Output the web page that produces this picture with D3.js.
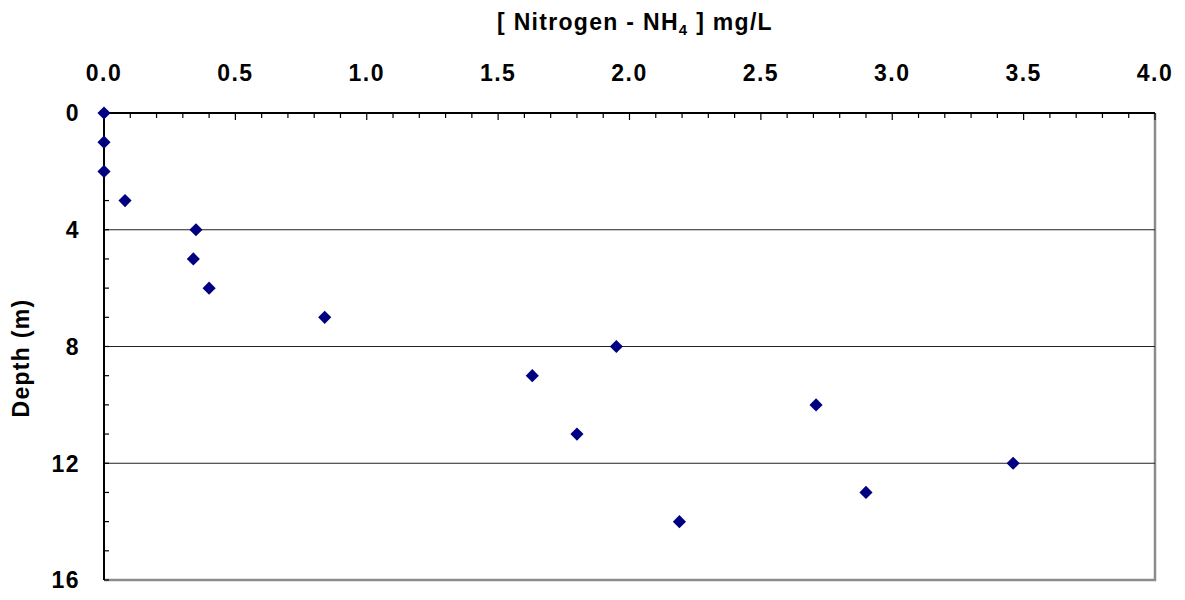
<!DOCTYPE html>
<html>
<head>
<meta charset="utf-8">
<script src="https://cdn.jsdelivr.net/npm/d3@7"></script>
<style>
  body { margin: 0; background: #fff; }
  text { font-family: Arial, "Liberation Sans", sans-serif; font-weight: bold; fill: #000; }
</style>
</head>
<body>
<div id="svg-container"></div>
<script>
// data
const depth = [0, 1, 2, 3, 4, 5, 6, 7, 8, 9, 10, 11, 12, 13, 14]
const nh4 = [0.0, 0.0, 0.0, 0.08, 0.35, 0.34, 0.40, 0.84, 1.95, 1.63, 2.71, 1.80, 3.46, 2.90, 2.19]
const xTicks = [0, 0.5, 1.0, 1.5, 2.0, 2.5, 3.0, 3.5, 4.0]
const yTicks = [0, 4, 8, 12, 16]
const gridDepths = [4, 8, 12]

// dimensions
const dim = {
    width: 1051,
    height: 467,
    margin: { top: 113, right: 30, bottom: 20, left: 104 }
}

const svg = d3.select("#svg-container")
    .append("svg")
        .attr("width", 1185)
        .attr("height", 600)

const g = svg.append("g")
    .attr("transform", `translate(${dim.margin.left}, ${dim.margin.top})`)

// scales
const xScale = d3.scaleLinear().domain([0, 4]).range([0, dim.width])
const yScale = d3.scaleLinear().domain([0, 16]).range([0, dim.height])

// plot border (grey right/bottom)
g.append("path")
    .attr("d", `M${dim.width},0 V${dim.height} H0`)
    .attr("fill", "none")
    .attr("stroke", "#8c8c8c")
    .attr("stroke-width", 2.5)

// gridlines
g.append("g")
    .selectAll("line")
    .data(gridDepths)
    .join("line")
        .attr("x1", 0)
        .attr("x2", dim.width)
        .attr("y1", d => yScale(d))
        .attr("y2", d => yScale(d))
        .attr("stroke", "#222")
        .attr("stroke-width", 1.2)

// x axis on top, ticks pointing into the plot
const xMinor = d3.range(0, 41).map(i => i / 10)
g.append("g")
    .selectAll("line")
    .data(xMinor)
    .join("line")
        .attr("x1", d => xScale(d))
        .attr("x2", d => xScale(d))
        .attr("y1", 0)
        .attr("y2", (d, i) => i % 5 === 0 ? 7 : 5)
        .attr("stroke", "#000")
        .attr("stroke-width", 1.2)

g.append("line")
    .attr("x1", 0).attr("x2", dim.width)
    .attr("y1", 0).attr("y2", 0)
    .attr("stroke", "#000")
    .attr("stroke-width", 2)

g.append("g")
    .selectAll("text")
    .data(xTicks)
    .join("text")
        .attr("x", d => xScale(d))
        .attr("y", -32)
        .attr("text-anchor", "middle")
        .style("font-size", "23px")
        .style("letter-spacing", "1.5px")
        .text(d => d3.format(".1f")(d))

// y axis on left, ticks pointing into the plot
const yMinor = d3.range(0, 17)
g.append("g")
    .selectAll("line")
    .data(yMinor)
    .join("line")
        .attr("x1", 0)
        .attr("x2", 5)
        .attr("y1", d => yScale(d))
        .attr("y2", d => yScale(d))
        .attr("stroke", "#000")
        .attr("stroke-width", 1.2)

g.append("line")
    .attr("x1", 0).attr("x2", 0)
    .attr("y1", 0).attr("y2", dim.height)
    .attr("stroke", "#000")
    .attr("stroke-width", 2)

g.append("g")
    .selectAll("text")
    .data(yTicks)
    .join("text")
        .attr("x", -24)
        .attr("y", d => yScale(d))
        .attr("dy", "0.36em")
        .attr("text-anchor", "end")
        .style("font-size", "23px")
        .style("letter-spacing", "1.5px")
        .text(d => d)

// points
g.append("g")
    .selectAll("path")
    .data(depth.map((d, i) => ({ depth: d, val: nh4[i] })))
    .join("path")
        .attr("d", d3.symbol().type(d3.symbolDiamond2).size(110))
        .attr("transform", d => `translate(${xScale(d.val)}, ${yScale(d.depth)})`)
        .attr("fill", "#000080")

// title
const title = svg.append("text")
    .attr("x", 635)
    .attr("y", 30)
    .attr("text-anchor", "middle")
    .style("font-size", "23px")
    .style("letter-spacing", "1.3px")
title.append("tspan").text("[ Nitrogen - NH")
title.append("tspan").attr("dy", 5).style("font-size", "15px").text("4")
title.append("tspan").attr("dy", -5).text(" ] mg/L")

// y label
svg.append("text")
    .attr("transform", "translate(29, 358) rotate(-90)")
    .attr("text-anchor", "middle")
    .style("font-size", "23px")
    .style("letter-spacing", "1.3px")
    .text("Depth (m)")
</script>
</body>
</html>
